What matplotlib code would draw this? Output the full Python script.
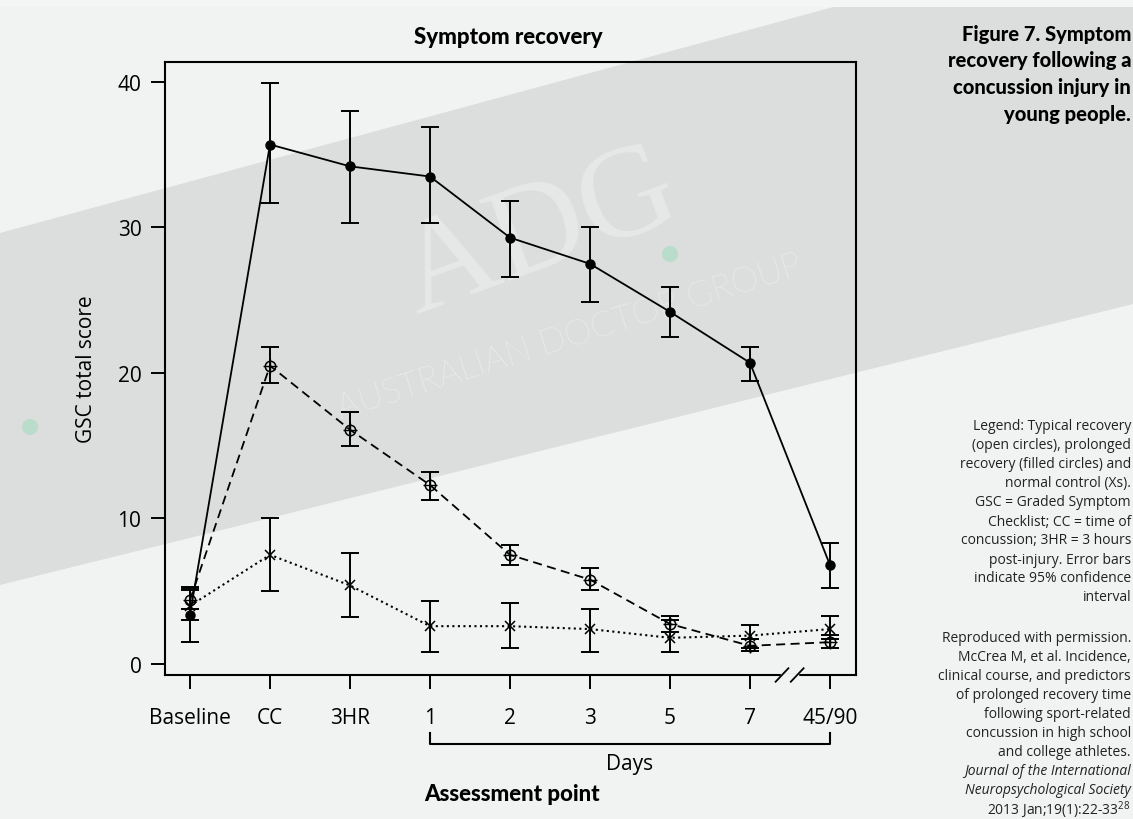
import matplotlib
matplotlib.use("Agg")
import matplotlib.pyplot as plt
import numpy as np
from matplotlib.patches import Polygon, Ellipse

plt.rcParams['font.family'] = ['Open Sans', 'DejaVu Sans']
plt.rcParams['mathtext.fontset'] = 'custom'
plt.rcParams['mathtext.rm'] = 'Open Sans'

# assessment points
categories = ["Baseline", "CC", "3HR", "1", "2", "3", "5", "7", "45/90"]

# prolonged recovery (filled circles)
prolonged = [3.4, 35.7, 34.2, 33.5, 29.3, 27.5, 24.2, 20.7, 6.8]
prolonged_lo = [1.5, 31.7, 30.3, 30.3, 26.6, 24.9, 22.5, 19.45, 5.2]
prolonged_hi = [5.3, 39.9, 38.0, 36.9, 31.8, 30.0, 25.9, 21.8, 8.3]

# typical recovery (open circles)
typical = [4.4, 20.5, 16.1, 12.3, 7.5, 5.8, 2.75, 1.25, 1.5]
typical_lo = [3.8, 19.3, 15.0, 11.3, 6.8, 5.1, 2.2, 0.9, 1.1]
typical_hi = [5.2, 21.8, 17.3, 13.2, 8.2, 6.6, 3.3, 1.7, 2.0]

# normal control (Xs)
control = [4.0, 7.5, 5.4, 2.6, 2.6, 2.4, 1.8, 1.95, 2.4]
control_lo = [3.0, 5.0, 3.2, 0.8, 1.1, 0.85, 0.8, 1.1, 1.7]
control_hi = [5.1, 10.0, 7.6, 4.3, 4.2, 3.8, 3.0, 2.7, 3.3]

yticks = [0, 10, 20, 30, 40]

title_lines = ["Figure 7. Symptom", "recovery following a",
               "concussion injury in", "young people."]
legend_lines = ["Legend: Typical recovery", "(open circles), prolonged",
                "recovery (filled circles) and", "normal control (Xs).",
                "GSC = Graded Symptom", "Checklist; CC = time of",
                "concussion; 3HR = 3 hours", "post-injury. Error bars",
                "indicate 95% confidence", "interval"]
source_lines = ["Reproduced with permission.", "McCrea M, et al. Incidence,",
                "clinical course, and predictors", "of prolonged recovery time",
                "following sport-related", "concussion in high school",
                "and college athletes.", "Journal of the International",
                "Neuropsychological Society", "2013 Jan;19(1):22-33$^{28}$"]
source_italic = [False] * 7 + [True, True, False]

W, H = 1133, 820


def fx(x):
    return x / W


def fy(y):
    return 1 - y / H


bg = '#f1f2f2'
band = '#dcdddd'
fig = plt.figure(figsize=(W / 100, H / 100), dpi=100, facecolor=bg)

# diagonal grey band of the page background
pts = [(0, 234), (863, 0), (1133, 0), (1133, 305), (0, 586)]
fig.add_artist(Polygon([(fx(a), fy(b)) for a, b in pts], closed=True,
                       transform=fig.transFigure, facecolor=band,
                       edgecolor='none', zorder=-2))
fig.add_artist(Polygon([(0, 1), (1, 1), (1, fy(8)), (0, fy(8))],
                       transform=fig.transFigure, facecolor='#f4f5f5',
                       edgecolor='none', zorder=-1.9))

# watermark
fig.text(fx(569), fy(337), "AUSTRALIAN DOCTOR GROUP", rotation=17.4,
         ha='center', va='center', fontsize=25, family='Lato',
         fontweight='light', color='white', alpha=0.75, zorder=-1.5)
fig.text(fx(540), fy(235), "ADG", rotation=20, ha='center', va='center',
         fontsize=95, family='Liberation Serif', color='white',
         alpha=0.3, zorder=-1.5)
for cx, cy in [(670, 255), (30, 428)]:
    fig.add_artist(Ellipse((fx(cx), fy(cy)), 16 / W, 16 / H,
                           transform=fig.transFigure, facecolor='#b9dccb',
                           edgecolor='none', zorder=-1.4))

ax = fig.add_axes([fx(165), fy(676), (856 - 165) / W, (676 - 63) / H])
ax.set_facecolor('none')
x = np.arange(len(categories))

eb = dict(fmt='none', ecolor='black', elinewidth=1.4, capsize=6.8, capthick=1.4)
for vals, lo, hi in [(prolonged, prolonged_lo, prolonged_hi),
                     (typical, typical_lo, typical_hi),
                     (control, control_lo, control_hi)]:
    v = np.array(vals)
    ax.errorbar(x, v, yerr=[v - np.array(lo), np.array(hi) - v], **eb)

ax.plot(x, prolonged, color='black', lw=1.3, marker='o', ms=6.5)
ax.plot(x, typical, color='black', lw=1.3, ls='--', dashes=(5, 3),
        marker='o', mfc='none', mec='black', ms=7.5, mew=1.1)
ax.plot(x, typical, ls='none', marker='+', ms=10, mew=1.0, color='black')
ax.plot(x, control, color='black', lw=1.5, ls=':', marker='x', ms=7.5, mew=1.1)

ax.set_xlim(-0.3125, 8.325)
ax.set_ylim(-0.756, 41.37)
ax.set_xticks(x, categories)
ax.set_yticks(yticks)
ax.tick_params(axis='both', direction='out', length=10, width=1.4,
               labelsize=15, colors='black')
ax.tick_params(axis='y', pad=7)
ax.tick_params(axis='x', pad=13)
for s in ax.spines.values():
    s.set_linewidth(1.5)

# axis break between 7 and 45/90
tr = ax.get_xaxis_transform()
ax.plot([7.4, 7.59], [0, 0], color=bg, lw=2.5, transform=tr, clip_on=False,
        zorder=5)
for xb in [7.4, 7.59]:
    ax.plot([xb - 0.08, xb + 0.08], [-0.011, 0.011], color='black', lw=1.3,
            transform=tr, clip_on=False, zorder=6)

# "Days" bracket
ax.plot([3, 3, 8, 8], [-0.0946, -0.1126, -0.1126, -0.0946], color='black',
        lw=1.5, transform=tr, clip_on=False)
ax.text(5.49, -0.1436, "Days", transform=tr, ha='center', va='center',
        fontsize=15)

ax.set_ylabel("GSC total score", fontsize=15)
ax.yaxis.set_label_coords(-0.114, 0.5)
ax.yaxis.label.set_verticalalignment('center')

fig.text(fx(508), fy(38), "Symptom recovery", ha='center', va='center',
         fontsize=16, family='Lato', fontweight='black')
fig.text(fx(512), fy(795), "Assessment point", ha='center', va='center',
         fontsize=16, family='Lato', fontweight='black')

for i, line in enumerate(title_lines):
    fig.text(fx(1131), fy(34 + 26.7 * i), line, ha='right', va='center',
             fontsize=14.5, family='Lato', fontweight='black')
for i, line in enumerate(legend_lines):
    fig.text(fx(1131), fy(427 + 19 * i), line, ha='right', va='center',
             fontsize=10, color='#222222')
for i, (line, it) in enumerate(zip(source_lines, source_italic)):
    fig.text(fx(1131), fy(638 + 19.1 * i), line, ha='right', va='center',
             fontsize=10, color='#222222', style='italic' if it else 'normal')

fig.savefig("out.png", dpi=100, facecolor=bg)
